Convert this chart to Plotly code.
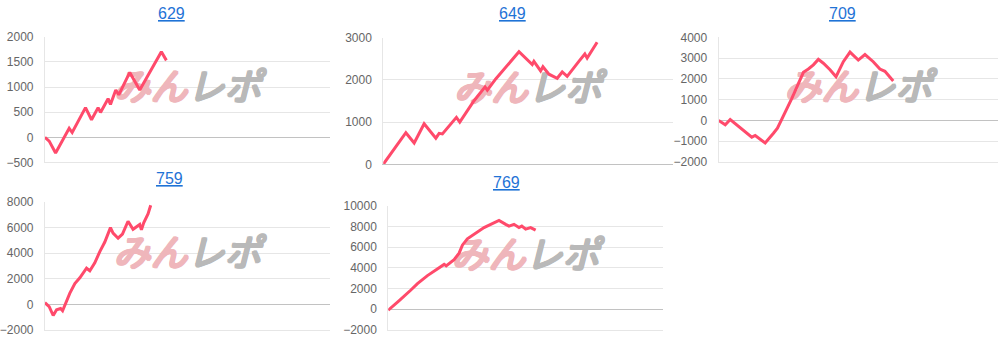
import plotly.graph_objects as go

W, H = 1003, 346

# ---------------- data ----------------
titles = ["629", "649", "709", "759", "769"]
x_max_games = 9000

games_629 = [0, 135, 337, 525, 765, 860, 1280, 1470, 1677, 1753, 1992, 2067, 2234, 2329, 2675, 2990, 3408, 3672, 3830]
diff_629 = [0, -76, -312, -107, 178, 95, 590, 349, 590, 495, 768, 654, 940, 845, 1290, 940, 1415, 1700, 1530]

games_649 = [0, 289, 394, 704, 962, 1272, 1636, 1738, 1840, 2275, 2380, 2824, 3166, 3237, 3498, 4221, 4634, 4686, 4894, 4966, 5152, 5410, 5566, 5720, 6083, 6269, 6341, 6651]
diff_649 = [0, 318, 432, 750, 507, 962, 621, 734, 720, 1114, 1000, 1507, 1834, 1757, 2023, 2667, 2364, 2440, 2212, 2311, 2136, 2039, 2189, 2084, 2440, 2614, 2516, 2894]

games_709 = [0, 215, 376, 697, 858, 1070, 1180, 1501, 1768, 1896, 2356, 2517, 2732, 2893, 3054, 3214, 3375, 3590, 3783, 4018, 4233, 4500, 4715, 4982, 5197, 5358, 5625]
diff_709 = [0, -213, 46, -339, -524, -803, -724, -1081, -617, -371, 1053, 1596, 2320, 2478, 2677, 2942, 2756, 2445, 2106, 2830, 3294, 2909, 3174, 2830, 2478, 2366, 1902]

games_759 = [0, 135, 261, 368, 494, 557, 787, 944, 1101, 1312, 1416, 1573, 1731, 1888, 2067, 2149, 2307, 2445, 2621, 2779, 2990, 3043, 3115, 3251, 3336]
diff_759 = [125, -175, -875, -425, -325, -500, 875, 1625, 2075, 2825, 2625, 3250, 4125, 4875, 6000, 5575, 5175, 5500, 6500, 5875, 6250, 5825, 6375, 7075, 7750]

games_769 = [0, 196, 360, 743, 959, 1286, 1613, 1833, 1900, 2160, 2324, 2432, 2595, 2870, 3142, 3413, 3633, 3852, 3960, 4124, 4287, 4380, 4507, 4670, 4834]
diff_769 = [-93, 465, 837, 1860, 2480, 3255, 3937, 4340, 4200, 4805, 5425, 6200, 6820, 7347, 7905, 8277, 8587, 8215, 8050, 8215, 7905, 8050, 7750, 7905, 7657]

y_ranges = [(-500, 2000), (0, 3000), (-2000, 4000), (-2000, 8000), (-2000, 10000)]
y_dticks = [500, 1000, 1000, 2000, 2000]

wm_left, wm_right = "みん", "レポ"

series = [(games_629, diff_629), (games_649, diff_649), (games_709, diff_709),
          (games_759, diff_759), (games_769, diff_769)]

# ---------------- layout (pixels) ----------------
plot_boxes = [  # left, right, top, bottom
    (43, 329, 31, 162),
    (382, 672, 32, 164),
    (718, 998, 31.7, 161.5),
    (43, 329, 203.3, 336.5),
    (387, 662, 207.3, 336.5),
]
title_pos = [(170, 7), (512, 7), (842, 7), (168, 179), (506, 183)]

LINE_COLOR = "#ff4a6b"
GRID = "#e6e6e6"
ZERO = "#c2c2c2"
WM_PINK = "#efb6bb"
WM_GREY = "#b9b9b9"
TICK_FONT = dict(family="Liberation Sans, Arial, sans-serif", size=12, color="#666666")


def thick(c):
    return ", ".join(f"{dx}px {dy}px 0 {c}" for dx, dy in
                     [(1, 0), (-1, 0), (0, 1), (0, -1), (1, 1), (-1, -1), (1, -1), (-1, 1)])


fig = go.Figure()
layout = dict(
    width=W, height=H, autosize=False,
    margin=dict(l=0, r=0, t=0, b=0),
    paper_bgcolor="white", plot_bgcolor="white",
    showlegend=False,
    annotations=[],
)

for i, ((gx, gy), (l, r, t, b), (y0, y1), dt) in enumerate(zip(series, plot_boxes, y_ranges, y_dticks)):
    n = "" if i == 0 else str(i + 1)
    xa, ya = "x" + n, "y" + n
    wy = y0 + 0.57 * (y1 - y0)
    # watermark (drawn first, under the line)
    for txt, pos, col in [(wm_left, "middle left", WM_PINK), (wm_right, "middle right", WM_GREY)]:
        fig.add_trace(go.Scatter(
            x=[x_max_games * 0.5], y=[wy],
            mode="text", text=[f"<i>{txt}</i>"], textposition=pos,
            textfont=dict(family="Noto Sans CJK JP", size=37, color=col, shadow=thick(col)),
            hoverinfo="skip", xaxis=xa, yaxis=ya,
        ))
    fig.add_trace(go.Scatter(
        x=gx, y=gy, mode="lines",
        line=dict(color=LINE_COLOR, width=3),
        xaxis=xa, yaxis=ya, hoverinfo="skip",
    ))
    layout["xaxis" + n] = dict(
        domain=[l / W, r / W], range=[0, x_max_games], anchor=ya,
        showgrid=False, zeroline=False, showticklabels=False,
        showline=True, linecolor=(ZERO if y0 == 0 else GRID), linewidth=1,
        fixedrange=True,
    )
    layout["yaxis" + n] = dict(
        domain=[1 - b / H, 1 - t / H], range=[y0, y1], anchor=xa,
        dtick=dt, tick0=0, tickformat="d", showgrid=True, gridcolor=GRID, gridwidth=1,
        zeroline=True, zerolinecolor=ZERO, zerolinewidth=1,
        showline=True, linecolor=GRID, linewidth=1,
        ticks="", ticklabelstandoff=8, tickfont=TICK_FONT,
        fixedrange=True,
    )
    tx, ty = title_pos[i]
    layout["annotations"].append(dict(
        x=tx / W, y=1 - ty / H, xref="paper", yref="paper",
        xanchor="center", yanchor="middle", showarrow=False,
        text=f"<a href='#' style='color:#1f73d6'><span style='text-decoration:underline'>{titles[i]}</span></a>",
        font=dict(family="Liberation Sans, Arial, sans-serif", size=16, color="#1f73d6"),
    ))

fig.update_layout(**layout)
fig.write_html("out.html")
